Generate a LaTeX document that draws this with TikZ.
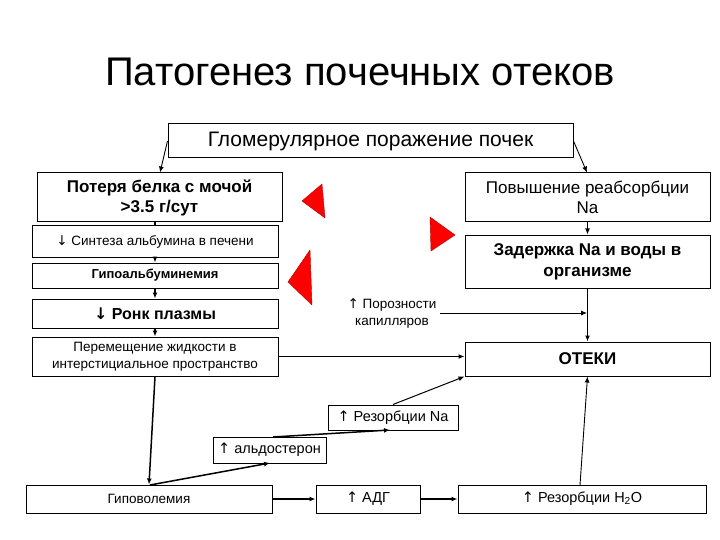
\documentclass[tikz,border=0pt]{standalone}
\usepackage{fontspec}
\setmainfont{Liberation Sans}
\newfontfamily\dejavu{DejaVu Sans}
\usetikzlibrary{arrows.meta}
\begin{document}
\begin{tikzpicture}[x=1pt,y=-1pt,
  bx/.style={draw,line width=1pt,inner sep=0pt,align=center},
  ar/.style={-{Latex[length=6pt,width=5pt]},line width=1.5pt},
  tri/.style={fill=red,draw=red!70!black,line width=0.4pt}]
\useasboundingbox (0,0) rectangle (720,540);
\newcommand{\up}{{\dejavu\char"2191}}
\newcommand{\dn}{{\dejavu\char"2193}}
\node[font=\fontsize{40}{42}\selectfont] (title) at (360,72) {Патогенез почечных отеков};
\node[bx,minimum width=405,minimum height=34,font=\fontsize{21}{23}\selectfont] (glom) at (370.5,141) {Гломерулярное поражение почек};
\node[bx,minimum width=245,minimum height=49,font=\fontsize{17}{20}\selectfont\bfseries] (pot) at (159.5,197.5) {Потеря белка с мочой\\ >3.5 г/сут};
\node[bx,minimum width=245,minimum height=49,font=\fontsize{17}{20}\selectfont] (pov) at (587.5,197.5) {Повышение реабсорбции\\ Na};
\node[bx,minimum width=246,minimum height=31,font=\fontsize{13.5}{15}\selectfont] (sin) at (155,241.5) {\dn\ Синтеза альбумина в печени};
\node[bx,minimum width=246,minimum height=25,font=\fontsize{13}{15}\selectfont\bfseries] (gip) at (155,275.5) {Гипоальбуминемия};
\node[bx,minimum width=246,minimum height=29,font=\fontsize{16}{18}\selectfont\bfseries] (ronk) at (155,313.5) {\dn\ Ронк плазмы};
\node[bx,minimum width=246,minimum height=39,font=\fontsize{13.5}{17}\selectfont] (per) at (155,356.5) {Перемещение жидкости в\\ интерстициальное пространство};
\node[bx,minimum width=245,minimum height=53,font=\fontsize{17}{21}\selectfont\bfseries] (zad) at (587.5,261.5) {Задержка Na и воды в\\ организме};
\node[bx,minimum width=245,minimum height=34,font=\fontsize{17}{19}\selectfont\bfseries] (ote) at (587.5,359) {ОТЕКИ};
\node[align=center,font=\fontsize{13.5}{17}\selectfont] (por) at (392,313) {\up\ Порозности\\ капилляров};
\node[bx,minimum width=130,minimum height=25,font=\fontsize{14.5}{16}\selectfont] (rna) at (393,417.5) {\up\ Резорбции Na};
\node[bx,minimum width=113,minimum height=26,font=\fontsize{14.5}{16}\selectfont] (ald) at (269.5,450) {\up\ альдостерон};
\node[bx,minimum width=246,minimum height=28,font=\fontsize{13.5}{15}\selectfont] (gpv) at (149,499) {Гиповолемия};
\node[bx,minimum width=104,minimum height=28,font=\fontsize{14.5}{16}\selectfont] (adg) at (368,499) {\up\ АДГ};
\node[bx,minimum width=248,minimum height=28,font=\fontsize{14.5}{16}\selectfont] (rh) at (582,499) {\up\ Резорбции H\textsubscript{2}O};
% triangles
\draw[tri] (302,201) -- (322,184) -- (325,218) -- cycle;
\draw[tri] (430,217) -- (455,235) -- (431,251) -- cycle;
\draw[tri] (288,282) -- (310,250) -- (312,305) -- cycle;
% connectors
\draw[ar,line width=0.9pt] (glom.west) -- (pot.north -| 160,0);
\draw[ar,line width=0.9pt] (glom.east) -- (pov.north -| 587,0);
\draw[line width=1.5pt] (sin.north) -- (pot.south -| sin.north);
\draw[ar] (sin) -- (gip);
\draw[ar] (gip) -- (ronk);
\draw[ar] (ronk) -- (per);
\draw[ar] (pov) -- (zad);
\draw[ar] (zad) -- (ote);
\coordinate (pj) at (587,313);
\draw[ar,line width=0.9pt] (por.east |- pj) -- (pj);
\draw[ar] (per.east) -- (per.east -| ote.west);
\draw[ar] (per.south) -- (gpv.north);
\coordinate (g0) at (150,485);
\coordinate (a1) at (270,463);
\coordinate (a2) at (273,437);
\coordinate (r1) at (390,430);
\draw[ar] (g0) -- (a1);
\draw[ar] (a2) -- (r1);
\draw[ar,line width=1pt] (rna.north) -- (ote.south west);
\draw[ar] (gpv) -- (adg);
\draw[ar] (adg) -- (rh);
\draw[ar,line width=0.9pt] (580,485) -- (ote.south);
\end{tikzpicture}
\end{document}
